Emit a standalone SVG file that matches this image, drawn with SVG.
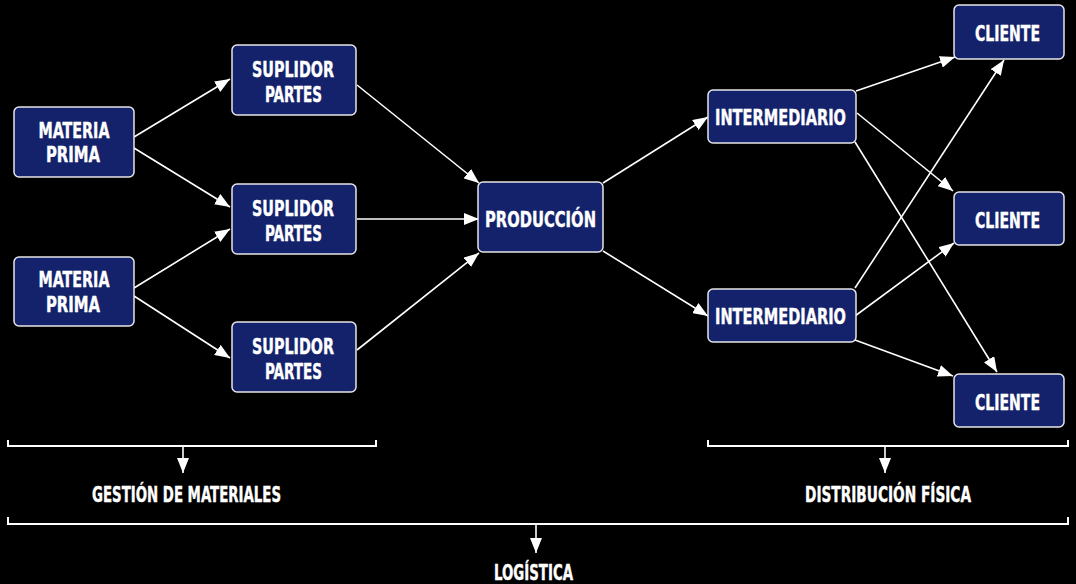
<svg xmlns="http://www.w3.org/2000/svg" width="1076" height="584" viewBox="0 0 1076 584">
<defs>
<marker id="ah" markerUnits="userSpaceOnUse" markerWidth="16" markerHeight="12" refX="15" refY="6" orient="auto">
<path d="M0,0 L15,6 L0,12 z" fill="#ffffff"/>
</marker>
<style>
.box{fill:#13226a;stroke:#e6e6e6;stroke-width:1.5}
.t{fill:#ffffff;stroke:#ffffff;stroke-width:0.4;font-family:"DejaVu Sans","Liberation Sans",sans-serif;font-weight:bold;font-stretch:condensed;font-size:22px;text-anchor:middle}
.l{fill:#ffffff;stroke:#ffffff;stroke-width:0.4;font-family:"DejaVu Sans","Liberation Sans",sans-serif;font-weight:bold;font-stretch:condensed;font-size:21px;text-anchor:middle}
.c{stroke:#ffffff;stroke-width:1.6;fill:none;marker-end:url(#ah)}
.br{stroke:#ffffff;stroke-width:2;fill:none}
</style>
</defs>
<rect width="1076" height="584" fill="#000000"/>
<g id="connectors">
<line class="c" x1="134" y1="137" x2="230" y2="79"/>
<line class="c" x1="134" y1="148" x2="230" y2="207"/>
<line class="c" x1="134" y1="288" x2="230" y2="229"/>
<line class="c" x1="134" y1="296" x2="230" y2="358"/>
<line class="c" x1="357" y1="85" x2="479" y2="183"/>
<line class="c" x1="357" y1="219" x2="479" y2="219"/>
<line class="c" x1="357" y1="350" x2="479" y2="253"/>
<line class="c" x1="603" y1="183" x2="708" y2="117"/>
<line class="c" x1="603" y1="251" x2="708" y2="316"/>
<line class="c" x1="856" y1="91" x2="955" y2="57"/>
<line class="c" x1="857" y1="113" x2="953" y2="191"/>
<line class="c" x1="855" y1="142" x2="997" y2="372"/>
<line class="c" x1="855" y1="288" x2="1004" y2="60"/>
<line class="c" x1="855" y1="316" x2="954" y2="243"/>
<line class="c" x1="855" y1="340" x2="953" y2="376"/>
<path class="br" d="M8,440 V446 H376 V440"/>
<line class="c" x1="183" y1="446" x2="183" y2="473"/>
<path class="br" d="M708,440 V446 H1068 V440"/>
<line class="c" x1="885" y1="446" x2="885" y2="473"/>
<path class="br" d="M8,517 V524 H1068 V517"/>
<line class="c" x1="536" y1="524" x2="536" y2="553"/>
</g>
<g id="mp1"><rect class="box" x="14" y="107" width="120" height="70" rx="5"/><text class="t" x="74" y="137.5" textLength="71" lengthAdjust="spacingAndGlyphs">MATERIA</text><text class="t" x="73" y="162" textLength="54" lengthAdjust="spacingAndGlyphs">PRIMA</text></g>
<g id="mp2"><rect class="box" x="14" y="257" width="120" height="69" rx="5"/><text class="t" x="74" y="287" textLength="71" lengthAdjust="spacingAndGlyphs">MATERIA</text><text class="t" x="73" y="311.5" textLength="54" lengthAdjust="spacingAndGlyphs">PRIMA</text></g>
<g id="sp1"><rect class="box" x="232" y="45" width="124" height="70" rx="5"/><text class="t" x="293" y="76.5" textLength="82" lengthAdjust="spacingAndGlyphs">SUPLIDOR</text><text class="t" x="293.5" y="101.5" textLength="57" lengthAdjust="spacingAndGlyphs">PARTES</text></g>
<g id="sp2"><rect class="box" x="232" y="184" width="124" height="70" rx="5"/><text class="t" x="293" y="215.5" textLength="82" lengthAdjust="spacingAndGlyphs">SUPLIDOR</text><text class="t" x="293.5" y="240.5" textLength="57" lengthAdjust="spacingAndGlyphs">PARTES</text></g>
<g id="sp3"><rect class="box" x="232" y="322" width="124" height="70" rx="5"/><text class="t" x="293" y="353.5" textLength="82" lengthAdjust="spacingAndGlyphs">SUPLIDOR</text><text class="t" x="293.5" y="378.5" textLength="57" lengthAdjust="spacingAndGlyphs">PARTES</text></g>
<g id="prod"><rect class="box" x="478" y="182" width="125" height="70" rx="5"/><text class="t" x="540.5" y="226.5" textLength="111" lengthAdjust="spacingAndGlyphs">PRODUCCIÓN</text></g>
<g id="int1"><rect class="box" x="708" y="90" width="148" height="53" rx="5"/><text class="t" x="780.5" y="125" textLength="131" lengthAdjust="spacingAndGlyphs">INTERMEDIARIO</text></g>
<g id="int2"><rect class="box" x="708" y="289" width="148" height="53" rx="5"/><text class="t" x="780.5" y="324" textLength="131" lengthAdjust="spacingAndGlyphs">INTERMEDIARIO</text></g>
<g id="c1"><rect class="box" x="954" y="5" width="110" height="54" rx="5"/><text class="t" x="1007.5" y="41" textLength="65" lengthAdjust="spacingAndGlyphs">CLIENTE</text></g>
<g id="c2"><rect class="box" x="954" y="192" width="110" height="53" rx="5"/><text class="t" x="1007.5" y="227.5" textLength="65" lengthAdjust="spacingAndGlyphs">CLIENTE</text></g>
<g id="c3"><rect class="box" x="954" y="374" width="110" height="53" rx="5"/><text class="t" x="1007.5" y="409.5" textLength="65" lengthAdjust="spacingAndGlyphs">CLIENTE</text></g>
<g id="labels">
<text class="l" x="186.5" y="502" textLength="189" lengthAdjust="spacingAndGlyphs">GESTIÓN DE MATERIALES</text>
<text class="l" x="888" y="502" textLength="166" lengthAdjust="spacingAndGlyphs">DISTRIBUCIÓN FÍSICA</text>
<text class="l" x="533.5" y="579.5" textLength="79" lengthAdjust="spacingAndGlyphs">LOGÍSTICA</text>
</g>
</svg>
